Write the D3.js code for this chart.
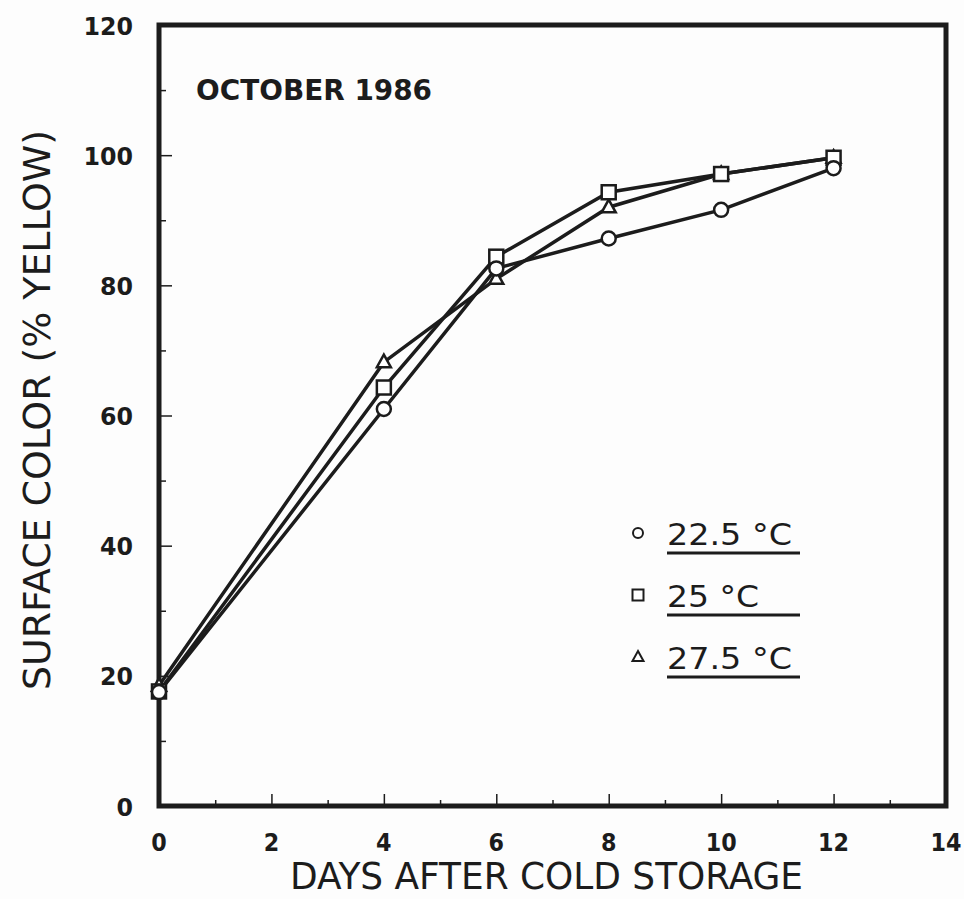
<!DOCTYPE html>
<html>
<head>
<meta charset="utf-8">
<script src="https://cdn.jsdelivr.net/npm/d3@7"></script>
<style>
  body { margin: 0; background: #fdfdfd; }
  svg { display: block; }
</style>
</head>
<body>
<div id="chart"></div>
<script>
(function () {
    'use strict';

    // data
    var days = [0, 4, 6, 8, 10, 12];
    var temp225 = [17.5, 61.0, 82.6, 87.2, 91.6, 98.0];
    var temp25 = [17.6, 64.3, 84.4, 94.3, 97.1, 99.6];
    var temp275 = [18.5, 68.2, 81.0, 92.0, 97.1, 99.6];
    var seriesNames = ["22.5 °C", "25 °C", "27.5 °C"];
    var seriesShapes = ["circle", "square", "triangle"];
    var xTicks = [0, 2, 4, 6, 8, 10, 12, 14];
    var yTicks = [0, 20, 40, 60, 80, 100, 120];

    var width = 964,
        height = 899,
        ink = "#1c1c1c",
        margin = {top: 25, right: 18, bottom: 93, left: 159};

    var svg = d3.select("#chart").append("svg")
        .attr("width", width)
        .attr("height", height);

    var x = d3.scaleLinear().domain([0, 14]).range([margin.left, width - margin.right]);
    var y = d3.scaleLinear().domain([0, 120]).range([height - margin.bottom, margin.top]);

    var seriesValues = [temp225, temp25, temp275];

    // minor/major ticks pointing inward
    var xAxis = d3.axisTop(x)
        .tickValues(d3.range(1, 14))
        .tickSize(0)
        .tickFormat("");
    var gx = svg.append("g")
        .attr("transform", "translate(0," + y(0) + ")")
        .call(xAxis);
    gx.select(".domain").remove();
    gx.selectAll(".tick line")
        .attr("stroke", ink)
        .attr("stroke-width", 1.5)
        .attr("y1", -2)
        .attr("y2", function (d) { return d % 2 === 0 ? -12 : -6; });

    var yAxis = d3.axisRight(y)
        .tickValues(d3.range(10, 120, 10))
        .tickSize(0)
        .tickFormat("");
    var gy = svg.append("g")
        .attr("transform", "translate(" + x(0) + ",0)")
        .call(yAxis);
    gy.select(".domain").remove();
    gy.selectAll(".tick line")
        .attr("stroke", ink)
        .attr("stroke-width", 1.5)
        .attr("x1", 2)
        .attr("x2", function (d) { return d % 20 === 0 ? 13 : 7; });

    // frame
    svg.append("rect")
        .attr("x", x(0))
        .attr("y", y(120))
        .attr("width", x(14) - x(0))
        .attr("height", y(0) - y(120))
        .attr("fill", "none")
        .attr("stroke", ink)
        .attr("stroke-width", 5);

    // tick labels
    svg.append("g").selectAll("text")
        .data(xTicks)
        .enter()
        .append("text")
        .attr("x", function (d) { return x(d); })
        .attr("y", y(0) + 45)
        .attr("text-anchor", "middle")
        .attr("font-family", "DejaVu Sans")
        .attr("font-weight", "bold")
        .attr("font-size", 25)
        .attr("textLength", function (d) { return String(d).length * 15.5; })
        .attr("lengthAdjust", "spacingAndGlyphs")
        .attr("fill", ink)
        .text(function (d) { return d; });

    svg.append("g").selectAll("text")
        .data(yTicks)
        .enter()
        .append("text")
        .attr("x", 133)
        .attr("y", function (d) { return y(d) + 9.5; })
        .attr("text-anchor", "end")
        .attr("font-family", "DejaVu Sans")
        .attr("font-weight", "bold")
        .attr("font-size", 25)
        .attr("textLength", function (d) { return String(d).length * 16.5; })
        .attr("lengthAdjust", "spacingAndGlyphs")
        .attr("fill", ink)
        .text(function (d) { return d; });

    // axis titles
    svg.append("text")
        .attr("x", 290)
        .attr("y", 889)
        .attr("font-family", "DejaVu Sans Condensed, DejaVu Sans")
        .attr("font-size", 37)
        .attr("textLength", 513)
        .attr("lengthAdjust", "spacingAndGlyphs")
        .attr("fill", ink)
        .text("DAYS AFTER COLD STORAGE");

    svg.append("text")
        .attr("transform", "translate(50,690) rotate(-90)")
        .attr("font-family", "DejaVu Sans Condensed, DejaVu Sans")
        .attr("font-size", 38)
        .attr("textLength", 560)
        .attr("lengthAdjust", "spacingAndGlyphs")
        .attr("fill", ink)
        .text("SURFACE COLOR (% YELLOW)");

    svg.append("text")
        .attr("x", 196)
        .attr("y", 100)
        .attr("font-family", "DejaVu Sans")
        .attr("font-weight", "bold")
        .attr("font-size", 28)
        .attr("textLength", 236)
        .attr("lengthAdjust", "spacingAndGlyphs")
        .attr("fill", ink)
        .text("OCTOBER 1986");

    // marker drawing helper
    function drawMarker(sel, shape, size, sw) {
        if (shape === "circle") {
            sel.append("circle")
                .attr("r", size / 2)
                .attr("fill", "#fff")
                .attr("stroke", ink)
                .attr("stroke-width", sw);
        } else if (shape === "square") {
            sel.append("rect")
                .attr("x", -size / 2)
                .attr("y", -size / 2)
                .attr("width", size)
                .attr("height", size)
                .attr("fill", "#fff")
                .attr("stroke", ink)
                .attr("stroke-width", sw);
        } else {
            var h = size * 0.9;
            sel.append("path")
                .attr("d", "M0," + (-h * 0.6) + "L" + (size / 2) + "," + (h * 0.4) + "L" + (-size / 2) + "," + (h * 0.4) + "Z")
                .attr("fill", "#fff")
                .attr("stroke", ink)
                .attr("stroke-width", sw)
                .attr("stroke-linejoin", "miter");
        }
    }

    var line = d3.line()
        .x(function (d) { return x(d[0]); })
        .y(function (d) { return y(d[1]); });

    // lines first, then markers on top
    seriesValues.forEach(function (vals) {
        svg.append("path")
            .datum(days.map(function (d, i) { return [d, vals[i]]; }))
            .attr("d", line)
            .attr("fill", "none")
            .attr("stroke", ink)
            .attr("stroke-width", 3.5);
    });

    [2, 1, 0].forEach(function (s) {
        var vals = seriesValues[s];
        days.forEach(function (d, i) {
            var g = svg.append("g")
                .attr("transform", "translate(" + x(d) + "," + y(vals[i]) + ")");
            drawMarker(g, seriesShapes[s], 14, 2.5);
        });
    });

    // legend
    var legend = svg.append("g").attr("transform", "translate(638,533)");
    seriesNames.forEach(function (name, i) {
        var row = legend.append("g").attr("transform", "translate(0," + (i * 62) + ")");
        var m = row.append("g");
        drawMarker(m, seriesShapes[i], i === 0 ? 10 : 11, 2);
        row.append("text")
            .attr("x", 29)
            .attr("y", 12)
            .attr("font-family", "DejaVu Sans")
            .attr("font-size", 31)
            .attr("fill", ink)
            .attr("textLength", name.length > 5 ? 125 : 92)
            .attr("lengthAdjust", "spacingAndGlyphs")
            .text(name);
        row.append("line")
            .attr("x1", 29)
            .attr("x2", 162)
            .attr("y1", 20)
            .attr("y2", 20)
            .attr("stroke", ink)
            .attr("stroke-width", 3);
    });
})();
</script>
</body>
</html>
